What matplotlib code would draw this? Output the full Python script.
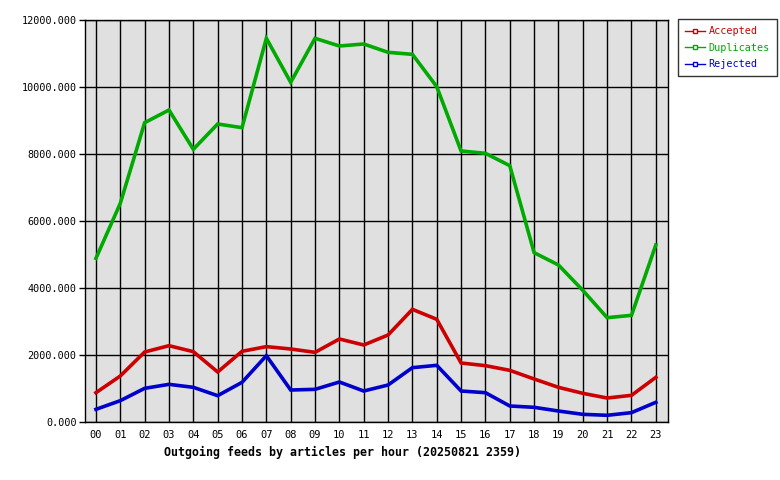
import matplotlib.pyplot as plt
from matplotlib.lines import Line2D

hours = ['%02d' % h for h in range(24)]

accepted = [875, 1373, 2090, 2278, 2100, 1493, 2110, 2250, 2179, 2080, 2478, 2299,
            2597, 3363, 3065, 1761, 1682, 1542, 1284, 1035, 856, 716, 796, 1333]
duplicates = [4886, 6527, 8935, 9313, 8140, 8896, 8786, 11453, 10140, 11453, 11224, 11284,
              11035, 10975, 10010, 8090, 8020, 7652, 5055, 4687, 3930, 3114, 3184, 5284]
rejected = [378, 637, 1005, 1124, 1035, 786, 1184, 1980, 955, 975, 1194, 925,
            1104, 1622, 1692, 925, 875, 478, 438, 328, 229, 200, 279, 588]

series = [('Accepted', accepted, '#cc0000'),
          ('Duplicates', duplicates, '#00aa00'),
          ('Rejected', rejected, '#0000cc')]

plt.rcParams['font.family'] = 'DejaVu Sans Mono'

fig = plt.figure(figsize=(7.8, 4.8), dpi=100)
ax = fig.add_axes([85/780, 58/480, 583/780, 402/480])
ax.set_facecolor('#e0e0e0')

x = list(range(len(hours)))
for name, vals, col in series:
    ax.plot(x, vals, color=col, linewidth=2.6, solid_joinstyle='miter', zorder=3)

ax.set_xlim(-0.45, 23.5)
ax.set_ylim(0, 12000)
ax.set_xticks(x)
ax.set_xticklabels(hours, fontsize=7.5)
ax.set_yticks(range(0, 12001, 2000))
ax.set_yticklabels(['%.3f' % v for v in range(0, 12001, 2000)], fontsize=7.3)
ax.tick_params(axis='x', length=0, pad=6)
ax.tick_params(axis='y', length=4, width=1, pad=2)
ax.grid(True, color='black', linewidth=1, zorder=1)
ax.set_axisbelow(True)
for s in ax.spines.values():
    s.set_linewidth(1)

fig.text(342/780, 1 - 452/480, 'Outgoing feeds by articles per hour (20250821 2359)',
         ha='center', va='center', fontsize=8.4, fontweight='bold')

handles = [Line2D([0], [0], color=col, linewidth=1, marker='s', markersize=3,
                  markerfacecolor='white', markeredgecolor=col) for _, _, col in series]
leg = fig.legend(handles, [s[0] for s in series], loc='upper left',
                 bbox_to_anchor=(678/780, 1 - 19/480), fontsize=7.3,
                 frameon=True, fancybox=False, edgecolor='black',
                 handlelength=2.0, handletextpad=0.3, borderpad=0.7, labelspacing=0.65,
                 borderaxespad=0)
leg.get_frame().set_linewidth(1)
for t, (_, _, col) in zip(leg.get_texts(), series):
    t.set_color(col)

fig.savefig('out.png', dpi=100)
